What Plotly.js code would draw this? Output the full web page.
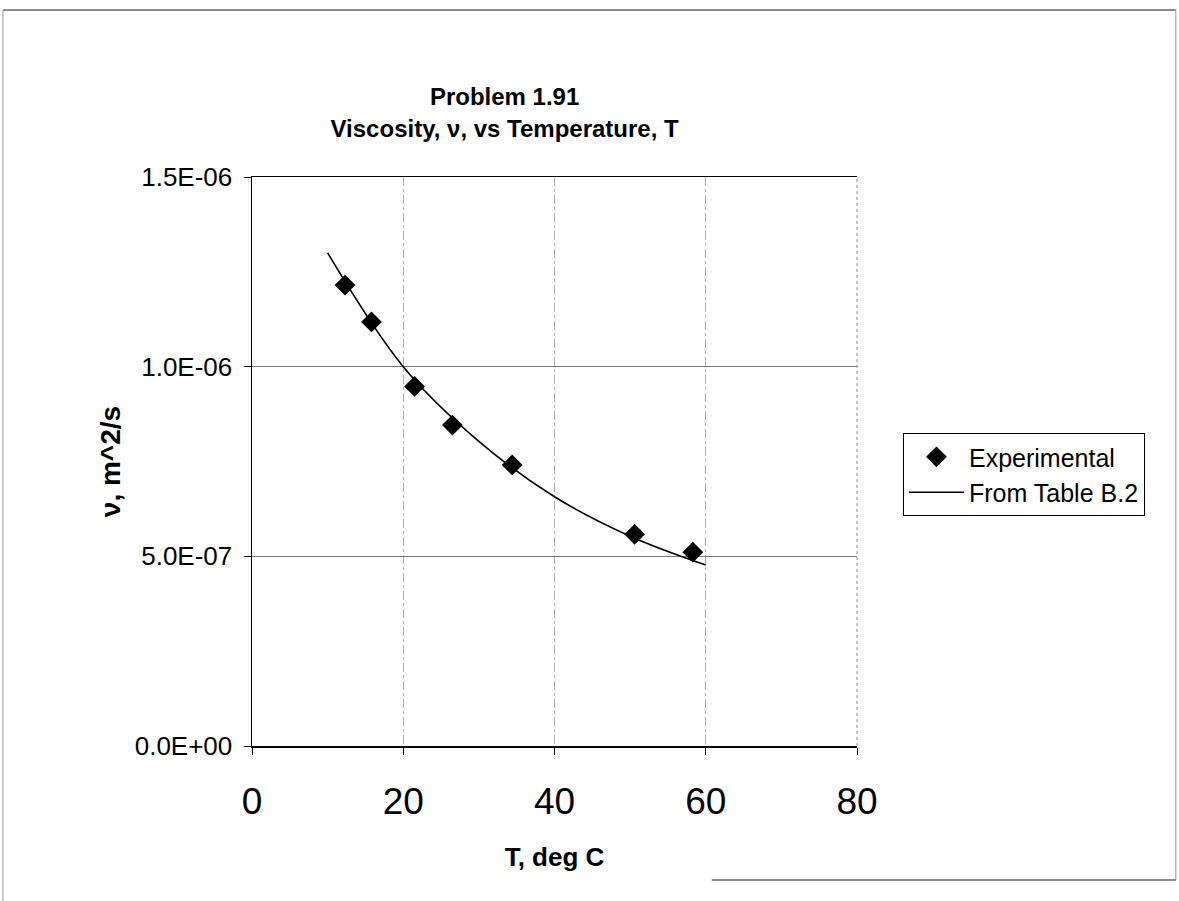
<!DOCTYPE html>
<html>
<head>
<meta charset="utf-8">
<script src="https://cdn.plot.ly/plotly-3.0.1.min.js"></script>
<style>
  html, body { margin: 0; padding: 0; background: #fff; }
  #chart { width: 1179px; height: 901px; }
</style>
</head>
<body>
<div id="chart"></div>
<script>
const expT = [12.3, 15.8, 21.5, 26.5, 34.4, 50.6, 58.3];
const expNu = [1.215e-6, 1.118e-6, 0.948e-6, 0.846e-6, 0.741e-6, 0.558e-6, 0.511e-6];

// Table B.2 curve
const tabT = [10, 20, 30, 40, 50, 60];
const tabNu = [1.30e-6, 1.00e-6, 8.03e-7, 6.57e-7, 5.53e-7, 4.77e-7];

// Tick labels
const xTickVals = [0, 20, 40, 60, 80];
const yTickVals = [0, 5e-7, 1e-6, 1.5e-6];
const yTickText = ["0.0E+00", "5.0E-07", "1.0E-06", "1.5E-06"];

const font = "Liberation Sans, Arial, sans-serif";

const traces = [
  {
    x: expT, y: expNu, type: "scatter", mode: "markers", name: "Experimental",
    marker: { symbol: "diamond", size: 16, color: "#000" }
  },
  {
    x: tabT, y: tabNu, type: "scatter", mode: "lines", name: "From Table B.2",
    line: { color: "#000", width: 1.6, shape: "spline" }
  }
];

const layout = {
  width: 1179, height: 901,
  paper_bgcolor: "#fff", plot_bgcolor: "#fff",
  margin: { l: 252, r: 322, t: 177, b: 155 },
  font: { family: font, color: "#000" },
  title: {
    text: "<b>Problem 1.91</b><br><b>Viscosity, ν, vs Temperature, T</b>",
    font: { family: font, size: 24, color: "#000" },
    xref: "container", x: 0.428, xanchor: "center",
    yref: "container", y: 0.883, yanchor: "middle"
  },
  xaxis: {
    range: [0, 80], tickvals: xTickVals, ticktext: xTickVals.map(String),
    showgrid: true, gridcolor: "#b0b0b0", griddash: "dashdot", gridwidth: 1,
    showline: true, linecolor: "#000", linewidth: 1.5, mirror: true,
    ticks: "outside", ticklen: 7, tickcolor: "#000",
    ticklabelstandoff: 15,
    tickfont: { family: font, size: 37, color: "#000" },
    title: { text: "<b>T, deg C</b>", font: { family: font, size: 26, color: "#000" }, standoff: 27 },
    zeroline: false
  },
  yaxis: {
    range: [0, 1.5e-6], tickvals: yTickVals, ticktext: yTickText,
    showgrid: true, gridcolor: "#7a7a7a", gridwidth: 1,
    showline: true, linecolor: "#000", linewidth: 1.5, mirror: false,
    ticks: "outside", ticklen: 7, tickcolor: "#000",
    ticklabelstandoff: 6,
    tickfont: { family: font, size: 26, color: "#000" },
    title: { text: "<b>ν, m^2/s</b>", font: { family: font, size: 28, color: "#000" }, standoff: 6 },
    zeroline: false
  },
  showlegend: true,
  legend: {
    x: 1.076, y: 0.55, xanchor: "left", yanchor: "top",
    bordercolor: "#000", borderwidth: 1, bgcolor: "#fff",
    font: { family: font, size: 25, color: "#000" },
    tracegroupgap: 0, itemwidth: 55
  },
  shapes: [
    { type: "line", xref: "paper", yref: "paper", x0: 1, x1: 1, y0: 0, y1: 1,
      line: { color: "#8a8a8a", width: 1, dash: "dot" } },
    { type: "line", xref: "paper", yref: "paper", x0: -0.4116, x1: 1.527, y0: 1.2935, y1: 1.2935,
      line: { color: "#666", width: 1.5 } },
    { type: "line", xref: "paper", yref: "paper", x0: -0.4116, x1: -0.4116, y0: 1.2935, y1: -0.28,
      line: { color: "#999", width: 1 } },
    { type: "line", xref: "paper", yref: "paper", x0: 1.527, x1: 1.527, y0: 1.2935, y1: -0.2355,
      line: { color: "#999", width: 1 } },
    { type: "line", xref: "paper", yref: "paper", x0: 0.76, x1: 1.527, y0: -0.2355, y1: -0.2355,
      line: { color: "#666", width: 1.5 } }
  ]
};

Plotly.newPlot("chart", traces, layout, { displayModeBar: false, staticPlot: true });
</script>
</body>
</html>
